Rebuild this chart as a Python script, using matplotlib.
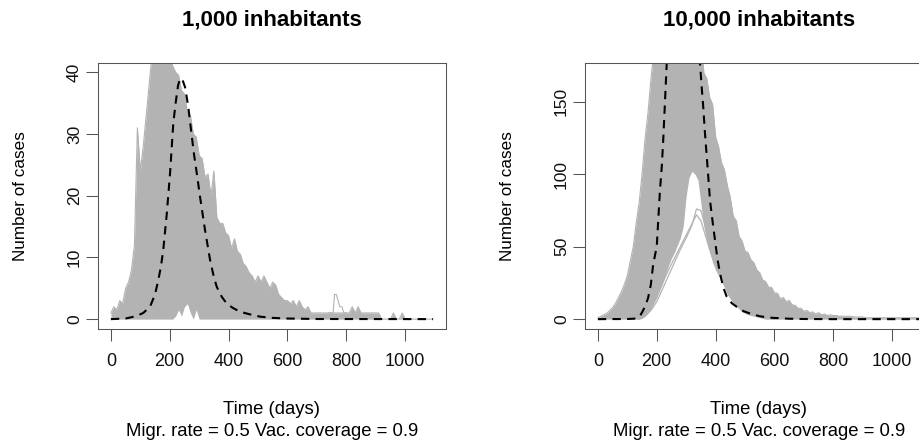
import matplotlib
matplotlib.use("Agg")
import matplotlib.pyplot as plt
import numpy as np

plt.rcParams['font.family'] = ['Liberation Sans', 'DejaVu Sans']

# ---- data ----
env_days = np.arange(0, 1100, 10)

# 1,000 inhabitants: envelope of the stochastic runs
small_upper = [1, 2, 1.5, 3, 2.5, 5, 6, 8, 12, 31,
               24, 28, 33, 38, 43, 43, 43, 43, 43, 43,
               43, 41, 40, 39.5, 37, 36.5, 33.5, 33, 30, 29.5,
               26.5, 26, 23, 23.5, 20, 24, 16.5, 15.5, 15.5, 14,
               13.5, 11.5, 13, 11, 10.5, 9, 8.5, 7.5, 7, 6,
               7, 6, 7, 6, 5, 6, 5.5, 4, 3.5, 3,
               3, 2.5, 3, 2, 3, 2, 1.5, 2, 1, 1,
               1, 1, 1, 1, 1, 1, 1, 1, 1, 1,
               1, 1, 2, 1, 2, 1, 1, 1, 1, 1,
               1, 1, 0, 0, 0, 0, 1, 0, 0, 1,
               0, 0, 0, 0, 0, 0, 0, 0, 0, 0]
small_lower = [0] * 21 + [0, 0.5, 1.5, 0.5, 2, 2.5, 1, 0, 1.5, 0] + [0] * 79
tail_days = [740, 755, 760, 766, 772, 778, 785, 792, 800]
tail_vals = [1, 1, 4, 4, 3, 2, 2, 1, 1]

small_det_days = [0, 50, 87, 110, 133, 150, 161, 170, 178, 190, 201, 212, 220,
                  228, 235, 243, 252, 263, 274, 283, 292, 303, 320, 337, 350,
                  360, 377, 394, 415, 439, 470, 507, 550, 600, 700, 1095]
small_det = [0, 0.1, 0.5, 1.0, 2.0, 4.0, 6.3, 8.5, 11.2, 17.1, 23.6, 31.7, 35.0,
             37.8, 39.0, 38.8, 37.6, 34.4, 30.0, 26.5, 23.6, 19.8, 14.4, 9.6, 6.8,
             5.2, 3.6, 2.5, 1.8, 1.2, 0.8, 0.4, 0.2, 0.1, 0.02, 0]

# 10,000 inhabitants
large_upper = [1, 2, 3, 4, 6, 8, 11, 15, 19, 24,
               30, 40, 50, 66, 80, 100, 124, 142, 165, 185,
               200, 200, 200, 200, 200, 200, 200, 200, 200, 200,
               200, 200, 200, 200, 200, 200, 170, 166, 153, 148,
               126, 119, 108, 103, 92, 84, 71, 68, 57, 54,
               47, 46, 41, 39, 34, 32, 27, 26, 22, 22,
               18, 18, 14, 15, 12, 13, 10, 9.5, 7.5, 7.5,
               5.5, 6, 4.5, 5, 3.5, 4.5, 3, 3.5, 2.5, 3,
               2.5, 2.5, 2, 2, 2, 2, 2, 1.5, 1.5, 1.5,
               1.5, 1, 1, 1, 1, 1, 1, 1, 1, 1,
               1, 1, 1, 1, 1, 1, 1, 1, 1, 1]
large_lower = ([0] * 15 +
               [0.5, 2, 4, 7, 11, 15, 20, 25, 31, 37,
                42, 46, 51, 56, 64, 85, 98, 102, 100, 96,
                80, 64, 54, 46, 39, 34, 30, 26, 22, 17,
                14, 11, 9, 7, 5, 4, 3, 2.5, 2, 1.5,
                1, 0.5, 0] +
               [0] * 52)
low_days = [140, 160, 180, 200, 220, 240, 260, 280, 300, 320, 335, 350,
            365, 380, 400, 420, 440, 460, 480, 500, 530, 560, 600]
low_run1 = [0, 3, 8, 15, 25, 34, 42, 50, 58, 66, 72, 68,
            58, 48, 37, 29, 21, 14, 9, 6, 3, 1.5, 0]
low_run2 = [0, 2, 6, 12, 21, 30, 39, 48, 56, 65, 76, 75,
            64, 53, 40, 31, 23, 16, 10, 7, 3.5, 2, 0]

large_det_days = [0, 100, 120, 131, 143, 154, 163, 171, 180, 188, 200, 205,
                  211, 217, 222, 228, 234, 245, 260, 280, 300, 320, 335, 347,
                  352, 358, 364, 370, 376, 381, 390, 398, 406, 415, 426, 438,
                  455, 472, 495, 517, 550, 585, 650, 700, 800, 1095]
large_det = [0, 0.1, 0.3, 0.5, 2.1, 6.2, 10, 15, 24, 38, 50, 68,
             89, 105, 123.5, 150, 177, 220, 270, 310, 320, 290, 230, 177,
             162, 146.5, 128, 112, 96, 82, 67, 54.5, 42, 31.5, 22, 15.4,
             11, 8.5, 5.5, 3.9, 2, 1, 0.3, 0.1, 0, 0]

titles = ['1,000 inhabitants', '10,000 inhabitants']
y_ticks = [[0, 10, 20, 30, 40], [0, 50, 100, 150]]
y_lims = [(-1.6, 41.5), (-6.8, 176.8)]
x_ticks = [0, 200, 400, 600, 800, 1000]

grey = '#b3b3b3'
frame = '#555555'

fig = plt.figure(figsize=(9.2, 4.42), dpi=100)
ax1 = fig.add_axes([98 / 920, 113 / 442, 348 / 920, 266 / 442])
ax2 = fig.add_axes([585 / 920, 113 / 442, 348 / 920, 266 / 442])

# stochastic runs
ax1.fill_between(env_days, small_lower, small_upper, color=grey, lw=0)
ax1.plot(env_days, small_upper, color=grey, lw=0.8)
ax1.plot(tail_days, tail_vals, color=grey, lw=0.8)
ax1.plot(small_det_days, small_det, color='black', lw=1.5, dashes=(4, 3))

ax2.fill_between(env_days, large_lower, large_upper, color=grey, lw=0)
ax2.plot(env_days, large_upper, color=grey, lw=0.8)
ax2.plot(low_days, low_run1, color=grey, lw=0.9)
ax2.plot(low_days, low_run2, color=grey, lw=0.9)
ax2.plot(large_det_days, large_det, color='black', lw=1.5, dashes=(4, 3))

for ax, title, yt, yl in zip([ax1, ax2], titles, y_ticks, y_lims):
    ax.set_xlim(-43.8, 1138.8)
    ax.set_ylim(*yl)
    ax.set_xticks(x_ticks)
    ax.set_yticks(yt)
    ax.tick_params(axis='both', direction='out', length=8.6, width=0.75,
                   color=frame, labelcolor='#111111')
    ax.tick_params(axis='x', pad=9, labelsize=13)
    ax.tick_params(axis='y', pad=3, labelsize=12.5)
    for lab in ax.get_yticklabels():
        lab.set_rotation(90)
        lab.set_va('center')
    for sp in ax.spines.values():
        sp.set_color(frame)
        sp.set_linewidth(0.75)
    ax.set_title(title, fontsize=16, fontweight='bold', pad=27)
    ax.set_ylabel('Number of cases', fontsize=12.3, va='center')
    ax.yaxis.set_label_coords(-77 / 348, 0.5)
    ax.text(0.5, -80 / 266, 'Time (days)', transform=ax.transAxes,
            ha='center', va='center', fontsize=13.3)
    ax.text(0.5, -103 / 266, 'Migr. rate = 0.5 Vac. coverage = 0.9',
            transform=ax.transAxes, ha='center', va='center', fontsize=13.3)

fig.savefig('out.png', dpi=100)
